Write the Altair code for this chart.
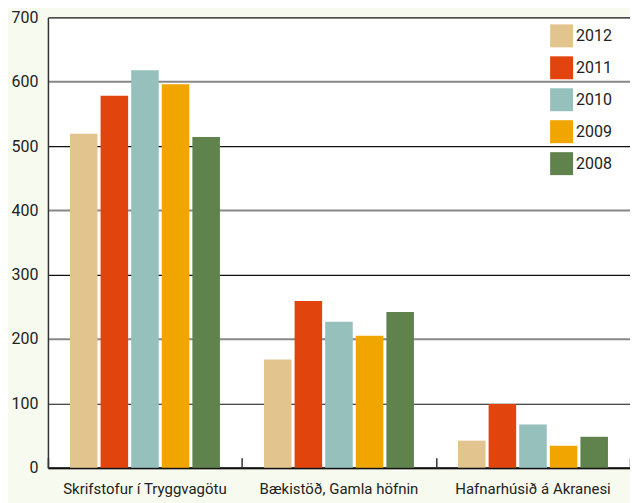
import altair as alt
import pandas as pd

categories = ["Skrifstofur í Tryggvagötu", "Bækistöð, Gamla höfnin", "Hafnarhúsið á Akranesi"]
years = ["2012", "2011", "2010", "2009", "2008"]
values = {
    "2012": [519, 168, 42],
    "2011": [578, 259, 99],
    "2010": [618, 227, 67],
    "2009": [596, 205, 34],
    "2008": [514, 242, 48],
}
colors = ["#e2c58e", "#e2440d", "#95c0bc", "#f0a500", "#60824d"]

rows = []
for y in years:
    for c, v in zip(categories, values[y]):
        rows.append({"Staður": c, "Ár": y, "Gildi": v})
df = pd.DataFrame(rows)

FONT = "Roboto"

x_scale = alt.Scale(domain=categories, paddingInner=0, paddingOuter=0)

bars = alt.Chart(df).mark_bar().encode(
    x=alt.X("Staður:N", sort=categories, scale=x_scale,
            axis=alt.Axis(title=None, labelAngle=0, ticks=False, labelPadding=14,
                          labelFontSize=15, labelFont=FONT, labelColor="#222",
                          domainColor="#111", domainWidth=2)),
    xOffset=alt.XOffset("Ár:N", sort=years,
                        scale=alt.Scale(paddingInner=0.1, paddingOuter=0.72)),
    y=alt.Y("Gildi:Q", scale=alt.Scale(domain=[0, 700]),
            axis=alt.Axis(title=None, values=[0, 100, 200, 300, 400, 500, 600, 700],
                          ticks=False, labelPadding=10, labelFontSize=16, labelFont=FONT,
                          labelColor="#222", domainColor="#333", domainWidth=1.5,
                          gridColor=alt.condition("datum.value % 200 == 100", alt.value("#111"), alt.value("#888")),
                          gridWidth=alt.condition("datum.value % 200 == 100", alt.value(1.2), alt.value(2)))),
    color=alt.Color("Ár:N", sort=years, scale=alt.Scale(domain=years, range=colors),
                    legend=alt.Legend(title=None, orient="none", legendX=503, legendY=7,
                                      symbolType="square", symbolSize=529, symbolStrokeWidth=0,
                                      symbolOpacity=1, rowPadding=9, labelFontSize=16,
                                      labelFont=FONT, labelColor="#222", labelOffset=3)),
)

ticks = alt.Chart(df).mark_point(opacity=0).encode(
    x=alt.X("Staður:N", sort=categories, scale=x_scale,
            axis=alt.Axis(title=None, orient="bottom", offset=-10, labels=False, domain=False,
                          tickBand="extent", tickSize=10, tickColor="#333", tickWidth=1.5)),
)

chart = alt.layer(bars, ticks).resolve_axis(x="independent").properties(
    width=583, height=451, background="#f7faee",
    padding={"left": 40, "top": 9, "right": 0, "bottom": 35},
    autosize=alt.AutoSizeParams(type="none"),
).configure_view(fill="white", stroke=None)

chart.save("out.html", embed_options={"renderer": "svg", "actions": False})
